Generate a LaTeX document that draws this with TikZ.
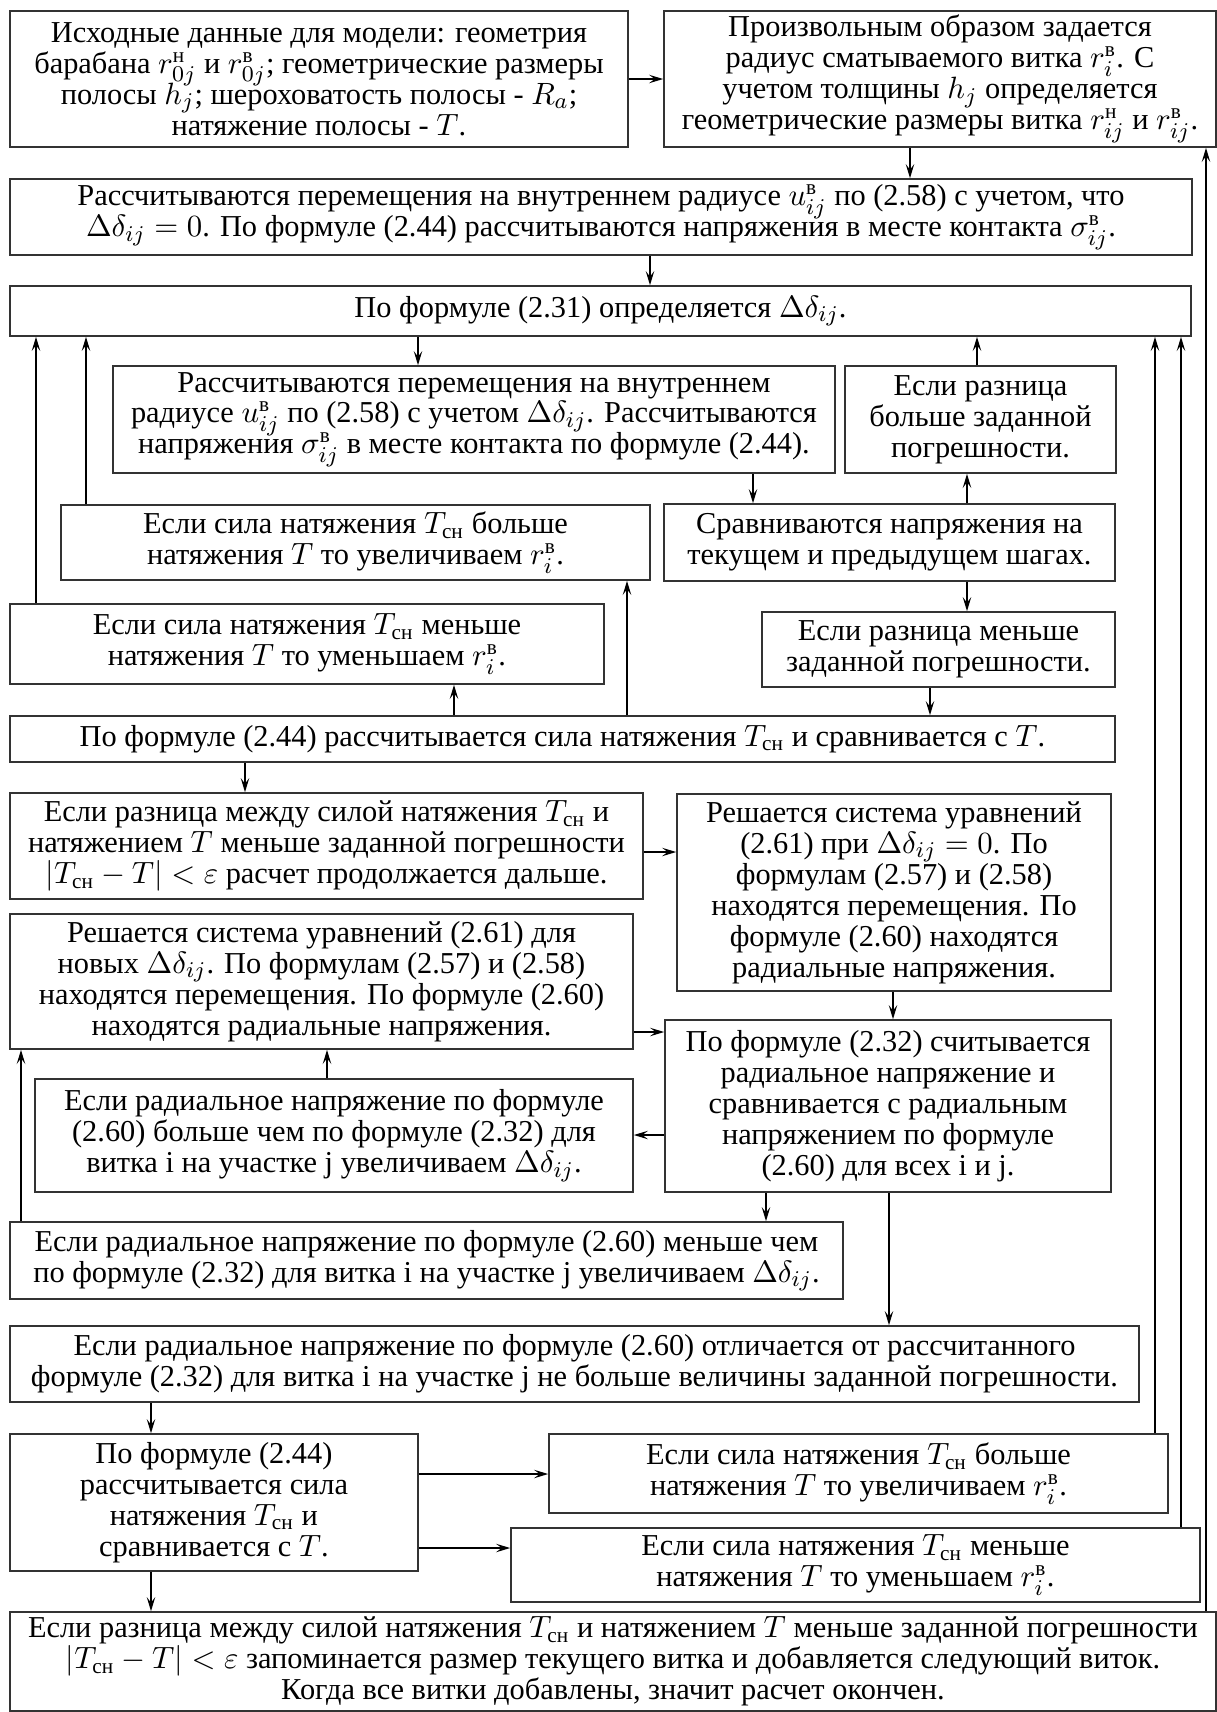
\documentclass[tikz,border=0pt]{standalone}
\usepackage{amsmath}
\usepackage{fontspec}
\setmainfont{Liberation Serif}
\usepackage{tikz}
\usetikzlibrary{positioning,arrows.meta}

% text of the boxes: tight single spacing
\newcommand\boxfont{\fontsize{10.8}{11}\selectfont\lineskiplimit=-100pt\relax}

\begin{document}
\begin{tikzpicture}[
  x=0.0125cm, y=-0.0125cm,
  box/.style={draw=black!80, line width=0.6pt, rectangle, inner sep=0pt, align=center, font=\boxfont},
  corners/.style n args={4}{at={({(#1+#3)/2},{(#2+#4)/2})},
    minimum width={(#3-#1)*0.0125cm}, minimum height={(#4-#2)*0.0125cm}},
  arrow/.style={-{Stealth[length=5pt,width=3pt,inset=2pt]}, line width=0.5pt}
]
\useasboundingbox (0,0) rectangle (1217,1712);

% input data and first guess of the turn radius
\node[box, corners={10}{11}{628}{147}] (in) {Исходные данные для модели: геометрия\\
  барабана $r^{\text{н}}_{0j}$ и $r^{\text{в}}_{0j}$; геометрические размеры\\
  полосы $h_j$; шероховатость полосы - $R_a$;\\
  натяжение полосы - $T$.};
\node[box, corners={664}{11}{1216}{147}] (radius) {Произвольным образом задается\\
  радиус сматываемого витка $r^{\text{в}}_i$. С\\
  учетом толщины $h_j$ определяется\\
  геометрические размеры витка $r^{\text{н}}_{ij}$ и $r^{\text{в}}_{ij}$.};
\node[box, corners={10}{179}{1192}{255}] (dispzero) {Рассчитываются перемещения на внутреннем радиусе $u^{\text{в}}_{ij}$ по (2.58) с учетом, что\\
  $\Delta\delta_{ij}=0$. По формуле (2.44) рассчитываются напряжения в месте контакта $\sigma^{\text{в}}_{ij}$.};
\node[box, corners={10}{286}{1191}{336}] (ddelta) {По формуле (2.31) определяется $\Delta\delta_{ij}$.};

% inner loop on the contact gap
\node[box, corners={113}{366}{835}{473}] (disp) {Рассчитываются перемещения на внутреннем\\
  радиусе $u^{\text{в}}_{ij}$ по (2.58) с учетом $\Delta\delta_{ij}$. Рассчитываются\\
  напряжения $\sigma^{\text{в}}_{ij}$ в месте контакта по формуле (2.44).};
\node[box, corners={845}{366}{1116}{473}] (bigdiff) {Если разница\\больше заданной\\погрешности.};
\node[box, corners={61}{505}{650}{580}] (tbig) {Если сила натяжения $T_{\text{сн}}$ больше\\натяжения $T$ то увеличиваем $r^{\text{в}}_i$.};
\node[box, corners={664}{504}{1115}{581}] (cmp) {Сравниваются напряжения на\\текущем и предыдущем шагах.};
\node[box, corners={10}{604}{604}{684}] (tsmall) {Если сила натяжения $T_{\text{сн}}$ меньше\\натяжения $T$ то уменьшаем $r^{\text{в}}_i$.};
\node[box, corners={762}{612}{1115}{687}] (smalldiff) {Если разница меньше\\заданной погрешности.};
\node[box, corners={10}{716}{1115}{762}] (force) {По формуле (2.44) рассчитывается сила натяжения $T_{\text{сн}}$ и сравнивается с $T$.};
\node[box, corners={10}{793}{643}{899}] (tok) {Если разница между силой натяжения $T_{\text{сн}}$ и\\
  натяжением $T$ меньше заданной погрешности\\
  $|T_{\text{сн}}-T|<\varepsilon$ расчет продолжается дальше.};

% radial stresses
\node[box, corners={677}{794}{1111}{991}] (solvezero) {Решается система уравнений\\(2.61) при $\Delta\delta_{ij}=0$. По\\формулам (2.57) и (2.58)\\
  находятся перемещения. По\\формуле (2.60) находятся\\радиальные напряжения.};
\node[box, corners={10}{914}{633}{1049}] (solvenew) {Решается система уравнений (2.61) для\\
  новых $\Delta\delta_{ij}$. По формулам (2.57) и (2.58)\\
  находятся перемещения. По формуле (2.60)\\
  находятся радиальные напряжения.};
\node[box, corners={665}{1020}{1111}{1192}] (sigcmp) {По формуле (2.32) считывается\\радиальное напряжение и\\
  сравнивается с радиальным\\напряжением по формуле\\(2.60) для всех i и j.};
\node[box, corners={35}{1079}{633}{1192}] (sigbig) {Если радиальное напряжение по формуле\\
  (2.60) больше чем по формуле (2.32) для\\
  витка i на участке j увеличиваем $\Delta\delta_{ij}$.};
\node[box, corners={10}{1222}{843}{1299}] (sigsmall) {Если радиальное напряжение по формуле (2.60) меньше чем\\
  по формуле (2.32) для витка i на участке j увеличиваем $\Delta\delta_{ij}$.};
\node[box, corners={10}{1326}{1139}{1402}] (sigok) {Если радиальное напряжение по формуле (2.60) отличается от рассчитанного\\
  формуле (2.32) для витка i на участке j не больше величины заданной погрешности.};

% tension check and next turn
\node[box, corners={10}{1434}{418}{1571}] (force2) {По формуле (2.44)\\рассчитывается сила\\натяжения $T_{\text{сн}}$ и\\сравнивается с $T$.};
\node[box, corners={549}{1434}{1168}{1513}] (tbig2) {Если сила натяжения $T_{\text{сн}}$ больше\\натяжения $T$ то увеличиваем $r^{\text{в}}_i$.};
\node[box, corners={511}{1528}{1200}{1602}] (tsmall2) {Если сила натяжения $T_{\text{сн}}$ меньше\\натяжения $T$ то уменьшаем $r^{\text{в}}_i$.};
\node[box, corners={10}{1612}{1216}{1711}] (finish) {Если разница между силой натяжения $T_{\text{сн}}$ и натяжением $T$ меньше заданной погрешности\\
  $|T_{\text{сн}}-T|<\varepsilon$ запоминается размер текущего витка и добавляется следующий виток.\\
  Когда все витки добавлены, значит расчет окончен.};

% connectors
\draw[arrow] (in) -- (radius);
\draw[arrow] (radius.south -| 910,0) -- (dispzero.north -| 910,0);
\draw[arrow] (dispzero.south -| 650,0) -- (ddelta.north -| 650,0);
\draw[arrow] (ddelta.south -| 418,0) -- (disp.north -| 418,0);
\draw[arrow] (bigdiff.north -| 977,0) -- (ddelta.south -| 977,0);
\draw[arrow] (disp.south -| 753,0) -- (cmp.north -| 753,0);
\draw[arrow] (cmp.north -| 967,0) -- (bigdiff.south -| 967,0);
\draw[arrow] (cmp.south -| 967,0) -- (smalldiff.north -| 967,0);
\draw[arrow] (smalldiff.south -| 930,0) -- (force.north -| 930,0);
\draw[arrow] (force.north -| 454,0) -- (tsmall.south -| 454,0);
\draw[arrow] (force.north -| 627,0) -- (tbig.south -| 627,0);
\draw[arrow] (tsmall.north -| 36,0) -- (ddelta.south -| 36,0);
\draw[arrow] (tbig.north -| 86,0) -- (ddelta.south -| 86,0);
\draw[arrow] (force.south -| 245,0) -- (tok.north -| 245,0);
\draw[arrow] (tok.east |- 0,852) -- (solvezero.west |- 0,852);
\draw[arrow] (solvezero.south -| 893,0) -- (sigcmp.north -| 893,0);
\draw[arrow] (solvenew.east |- 0,1032) -- (sigcmp.west |- 0,1032);
\draw[arrow] (sigcmp.west |- 0,1135) -- (sigbig.east |- 0,1135);
\draw[arrow] (sigbig.north -| 327,0) -- (solvenew.south -| 327,0);
\draw[arrow] (sigsmall.north -| 21,0) -- (solvenew.south -| 21,0);
\draw[arrow] (sigcmp.south -| 766,0) -- (sigsmall.north -| 766,0);
\draw[arrow] (sigcmp.south -| 889,0) -- (sigok.north -| 889,0);
\draw[arrow] (sigok.south -| 151,0) -- (force2.north -| 151,0);
\draw[arrow] (force2.east |- 0,1474) -- (tbig2.west |- 0,1474);
\draw[arrow] (force2.east |- 0,1548) -- (tsmall2.west |- 0,1548);
\draw[arrow] (force2.south -| 151,0) -- (finish.north -| 151,0);
\draw[arrow] (tbig2.north -| 1155,0) -- (ddelta.south -| 1155,0);
\draw[arrow] (tsmall2.north -| 1181,0) -- (ddelta.south -| 1181,0);
\draw[arrow] (finish.north -| 1206,0) -- (radius.south -| 1206,0);
\end{tikzpicture}
\end{document}
